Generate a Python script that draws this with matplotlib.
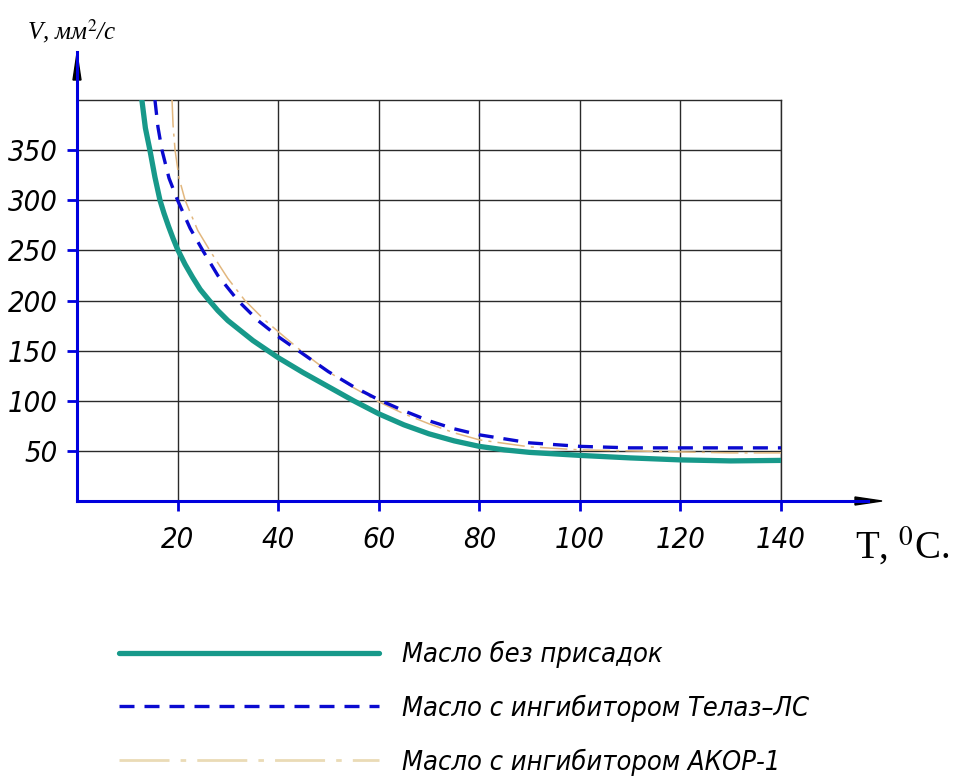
import matplotlib
matplotlib.use("Agg")
import matplotlib.pyplot as plt
from matplotlib.lines import Line2D
from matplotlib import font_manager as fm

# ---- data ----
t_plain = [12.9, 13.6, 14.5, 15.5, 16.5, 17.3, 18.2, 19.1, 20, 21.5, 23, 24.5, 26.3, 28, 30, 35, 40, 45, 50, 55, 60, 65, 70, 75, 80, 85, 90, 100, 110, 120, 130, 140]
v_plain = [400, 372, 350, 323, 300, 287, 274, 262, 251, 236, 223, 211, 200, 190, 180, 160, 143, 128, 114, 100, 87, 76, 67, 60, 54.5, 51, 48.5, 45.5, 43, 41, 40, 40.5]

t_telaz = [15.5, 16.1, 16.9, 18.3, 20, 22.5, 25, 28, 32, 36, 40, 44, 50, 55, 60, 65, 70, 75, 80, 90, 100, 110, 120, 130, 140]
v_telaz = [400, 373, 350, 322, 300, 272, 250, 225, 200, 180, 164, 150, 129, 114, 101, 90, 80, 72, 66, 58, 54.5, 53, 53, 53, 53]

t_akor = [18.9, 19.1, 19.5, 20.3, 21.5, 24, 26.4, 30, 33.4, 37, 40, 45, 50, 55, 60, 65, 70, 75, 80, 90, 100, 110, 120, 130, 140]
v_akor = [400, 375, 350, 322, 300, 270, 250, 222, 200, 182, 169, 148, 129, 113, 99, 87, 77, 68, 61, 54, 51, 50, 49, 48, 48]

series_labels = ["Масло без присадок",
                 "Масло с ингибитором Телаз–ЛС",
                 "Масло с ингибитором АКОР-1"]

x_ticks = [20, 40, 60, 80, 100, 120, 140]
y_ticks = [50, 100, 150, 200, 250, 300, 350]

# ---- styles ----
GREEN = "#17998a"
BLUE = "#0a0ad0"
TAN = "#e2b77e"
AXBLUE = "#0000dd"
plt.rcParams["mathtext.fontset"] = "stix"

def narrow_font(size):
    fp = fm.FontProperties(family="DejaVu Sans", style="italic", stretch="condensed", size=size)
    try:
        return fm.FontProperties(fname=fm.findfont(fp, fallback_to_default=False), size=size)
    except Exception:
        return fm.FontProperties(family="DejaVu Sans", style="italic", size=size * 0.86)

tick_fp = narrow_font(21)
leg_fp = narrow_font(19.5)

W, H = 956, 776
fig = plt.figure(figsize=(W / 100, H / 100), dpi=100)
ax = fig.add_axes([77 / W, (H - 501) / H, (781 - 77) / W, (501 - 100) / H])

ax.plot(t_plain, v_plain, color=GREEN, lw=3.8, solid_capstyle="round", zorder=4)
ax.plot(t_telaz, v_telaz, color=BLUE, lw=2.4, dashes=(4.5, 3), zorder=5)
ax.plot(t_akor, v_akor, color=TAN, lw=1.1, dashes=(18, 4, 2, 4), zorder=3)

ax.set_xlim(0, 140)
ax.set_ylim(0, 400)
ax.set_xticks(x_ticks)
ax.set_yticks(y_ticks)
ax.set_xticklabels([str(v) for v in x_ticks], fontproperties=tick_fp)
ax.set_yticklabels([str(v) for v in y_ticks], fontproperties=tick_fp)
ax.tick_params(axis="both", direction="out", length=7, width=2, color=AXBLUE)
ax.tick_params(axis="x", pad=11)
ax.tick_params(axis="y", pad=7)

ax.grid(True, color="#2a2a2a", lw=1.0)
ax.set_axisbelow(True)
for s in ("top", "right"):
    ax.spines[s].set_color("#2a2a2a")
    ax.spines[s].set_linewidth(1.0)
for s in ("left", "bottom"):
    ax.spines[s].set_visible(False)

def fx(px):
    return px / W

def fy(py):
    return 1 - py / H

fig.add_artist(Line2D([fx(77), fx(868)], [fy(501), fy(501)], color=AXBLUE, lw=2.2))
fig.add_artist(Line2D([fx(77), fx(77)], [fy(501), fy(52)], color=AXBLUE, lw=2.2))
fig.patches.append(plt.Polygon([[fx(882), fy(501)], [fx(855), fy(497)], [fx(855), fy(505)]],
                               closed=True, color="black", transform=fig.transFigure, figure=fig))
fig.patches.append(plt.Polygon([[fx(77), fy(53)], [fx(73), fy(80)], [fx(81), fy(80)]],
                               closed=True, color="black", transform=fig.transFigure, figure=fig))

# axis titles
fig.text(fx(27), fy(31), r"V, мм$^{2}$/с", family=["Liberation Serif", "DejaVu Serif"],
         style="italic", size=18, ha="left", va="center")
fig.text(fx(855), fy(546), r"T, $^{\mathrm{0}}$C.", family=["Liberation Serif", "DejaVu Serif"],
         size=28, ha="left", va="center")

# legend
handles = [Line2D([], [], color=GREEN, lw=3.8, solid_capstyle="round"),
           Line2D([], [], color=BLUE, lw=2.4, dashes=(4.5, 3)),
           Line2D([], [], color="#eadbb6", lw=2.0, dashes=(18, 4, 2, 4))]
leg = fig.legend(handles, series_labels, loc="upper left",
                 bbox_to_anchor=(fx(108), fy(630)), frameon=False,
                 prop=leg_fp,
                 handlelength=9.6, handletextpad=0.85, labelspacing=0.98, borderaxespad=0)

fig.savefig("out.png", dpi=100, facecolor="white")
